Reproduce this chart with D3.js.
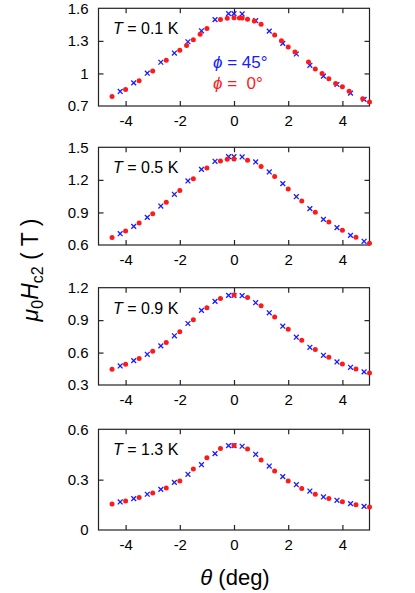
<!DOCTYPE html>
<html>
<head>
<meta charset="utf-8">
<script src="https://cdn.jsdelivr.net/npm/d3@7"></script>
<style>
body { margin:0; background:#fff; }
svg { font-family: "Liberation Sans", Arial, sans-serif; }
</style>
</head>
<body>
<div id="chart"></div>
<script>
// panel labels and axes
var temps = ["0.1", "0.5", "0.9", "1.3"];
var yDomains = [[0.7, 1.6], [0.6, 1.5], [0.3, 1.2], [0, 0.6]];
var yTicks = [[0.7, 1, 1.3, 1.6], [0.6, 0.9, 1.2, 1.5], [0.3, 0.6, 0.9, 1.2], [0, 0.3, 0.6]];
var xTicks = [-4, -2, 0, 2, 4];

// phi = 45 deg (blue crosses), same angles in every panel
var thetaBlue = [-4.2, -3.7, -3.2, -2.7, -2.2, -1.7, -1.2, -0.7, -0.2, 0, 0.3, 0.8, 1.3, 1.8, 2.3, 2.8, 3.3, 3.8, 4.3, 4.8];
var blue01 = [0.834, 0.913, 1.002, 1.103, 1.188, 1.292, 1.393, 1.496, 1.551, 1.551, 1.548, 1.487, 1.39, 1.277, 1.179, 1.075, 0.975, 0.898, 0.819, 0.761];
var blue05 = [0.704, 0.772, 0.855, 0.959, 1.067, 1.19, 1.297, 1.371, 1.414, 1.414, 1.411, 1.365, 1.273, 1.165, 1.045, 0.935, 0.836, 0.76, 0.689, 0.634];
var blue09 = [0.476, 0.526, 0.584, 0.662, 0.755, 0.869, 0.99, 1.073, 1.129, 1.129, 1.126, 1.061, 0.968, 0.844, 0.742, 0.649, 0.575, 0.513, 0.464, 0.421];
var blue13 = [0.167, 0.187, 0.213, 0.242, 0.284, 0.332, 0.389, 0.455, 0.503, 0.503, 0.499, 0.451, 0.381, 0.318, 0.27, 0.232, 0.197, 0.177, 0.157, 0.141];

// phi = 0 deg (red dots)
var thetaRed01 = [-4.5, -4, -3.5, -3, -2.5, -2, -1.75, -1.5, -1.25, -1, -0.5, -0.25, 0, 0.2, 0.3, 0.5, 0.75, 1, 1.5, 1.75, 2, 2.25, 2.75, 3, 3.25, 3.5, 3.75, 4, 4.25, 4.75, 5];
var red01 = [0.788, 0.853, 0.932, 1.023, 1.121, 1.213, 1.258, 1.31, 1.362, 1.414, 1.496, 1.508, 1.512, 1.51, 1.51, 1.5, 1.484, 1.454, 1.353, 1.3, 1.243, 1.197, 1.106, 1.04, 1.0, 0.95, 0.907, 0.877, 0.837, 0.767, 0.737];
var thetaRed05 = [-4.5, -4, -3.5, -3, -2.5, -2, -1.5, -1, -0.5, -0.25, 0, 0.5, 1, 1.5, 2, 2.5, 3, 3.5, 4, 4.5, 5];
var red05 = [0.668, 0.729, 0.803, 0.889, 0.993, 1.101, 1.211, 1.31, 1.374, 1.389, 1.392, 1.38, 1.322, 1.23, 1.116, 1.005, 0.901, 0.812, 0.735, 0.671, 0.615];
var thetaRed = [-4.5, -4, -3.5, -3, -2.5, -2, -1.5, -1, -0.5, 0, 0.5, 1, 1.5, 2, 2.5, 3, 3.5, 4, 4.5, 5];
var red09 = [0.445, 0.492, 0.544, 0.612, 0.693, 0.792, 0.903, 1.014, 1.101, 1.132, 1.11, 1.033, 0.928, 0.816, 0.714, 0.628, 0.557, 0.495, 0.448, 0.411];
var red13 = [0.155, 0.173, 0.193, 0.22, 0.25, 0.292, 0.364, 0.431, 0.485, 0.503, 0.483, 0.417, 0.352, 0.292, 0.248, 0.213, 0.187, 0.169, 0.151, 0.137];

var blueSets = [[thetaBlue, blue01], [thetaBlue, blue05], [thetaBlue, blue09], [thetaBlue, blue13]];
var redSets = [[thetaRed01, red01], [thetaRed05, red05], [thetaRed, red09], [thetaRed, red13]];

var W = 415, H = 593;
var left = 98.5, right = 369.5;
var tops = [8.3, 147.3, 287.7, 429.3];
var bottoms = [106, 245, 385, 530];

var svg = d3.select("#chart").append("svg")
    .attr("width", W)
    .attr("height", H);

var x = d3.scaleLinear().domain([-5, 5]).range([left, right]);

function pairs(set) {
    return set[0].map(function(t, i) { return { t: t, v: set[1][i] }; });
}

function drawPanel(p) {
    var y = d3.scaleLinear().domain(yDomains[p]).range([bottoms[p], tops[p]]);
    var g = svg.append("g").attr("class", "panel");

    // frame
    g.append("rect")
        .attr("x", left).attr("y", tops[p])
        .attr("width", right - left).attr("height", bottoms[p] - tops[p])
        .attr("fill", "none").attr("stroke", "#222").attr("stroke-width", 1.2);

    // x ticks, inward on bottom and top
    var xa = d3.axisBottom(x).tickValues(xTicks).tickSizeInner(-5).tickSizeOuter(0).tickPadding(9)
        .tickFormat(function(d) { return d3.format("d")(d).replace("−", "-"); });
    var gx = g.append("g").attr("transform", "translate(0," + bottoms[p] + ")").call(xa);
    var gxt = g.append("g").attr("transform", "translate(0," + tops[p] + ")")
        .call(d3.axisTop(x).tickValues(xTicks).tickSizeInner(-5).tickSizeOuter(0).tickFormat(""));

    // y ticks, inward on left and right
    var ya = d3.axisLeft(y).tickValues(yTicks[p]).tickSizeInner(-5).tickSizeOuter(0).tickPadding(10)
        .tickFormat(function(d) { return d3.format("~g")(d); });
    var gy = g.append("g").attr("transform", "translate(" + left + ",0)").call(ya);
    var gyr = g.append("g").attr("transform", "translate(" + right + ",0)")
        .call(d3.axisRight(y).tickValues(yTicks[p]).tickSizeInner(-5).tickSizeOuter(0).tickFormat(""));

    [gx, gxt, gy, gyr].forEach(function(a) {
        a.select(".domain").remove();
        a.selectAll(".tick line").attr("stroke", "#222").attr("stroke-width", 1.2);
        a.selectAll(".tick text").attr("font-size", 15).attr("fill", "#000")
            .attr("font-family", "Liberation Sans, Arial, sans-serif");
    });
    // drop ticks that sit on the frame corners
    gy.selectAll(".tick line").filter(function(d) { return d == yDomains[p][0] || d == yDomains[p][1]; }).remove();
    gyr.selectAll(".tick line").filter(function(d) { return d == yDomains[p][0] || d == yDomains[p][1]; }).remove();

    // temperature label
    var tl = g.append("text")
        .attr("x", 113).attr("y", tops[p] + 26)
        .attr("font-size", 16).attr("fill", "#000");
    tl.append("tspan").attr("font-style", "italic").text("T");
    tl.append("tspan").text(" = " + temps[p] + " K");

    // phi = 45 crosses
    var s = 2.4;
    g.append("g").attr("class", "blue")
        .selectAll("path")
        .data(pairs(blueSets[p]))
        .enter()
        .append("path")
        .attr("d", function(d) {
            var cx = x(d.t), cy = y(d.v);
            return "M" + (cx - s) + "," + (cy - s) + "L" + (cx + s) + "," + (cy + s) +
                "M" + (cx - s) + "," + (cy + s) + "L" + (cx + s) + "," + (cy - s);
        })
        .attr("stroke", "#1a1aff")
        .attr("stroke-width", 1.3)
        .attr("fill", "none");

    // phi = 0 dots
    g.append("g").attr("class", "red")
        .selectAll("circle")
        .data(pairs(redSets[p]))
        .enter()
        .append("circle")
        .attr("cx", function(d) { return x(d.t); })
        .attr("cy", function(d) { return y(d.v); })
        .attr("r", 2.5)
        .attr("fill", "#ff1a1a");
}

for (var p = 0; p < 4; p++) drawPanel(p);

// legend in first panel
var l1 = svg.append("text").attr("x", 213).attr("y", 68).attr("font-size", 17).attr("fill", "#1a1aff");
l1.append("tspan").attr("font-style", "italic").text("ϕ");
l1.append("tspan").text(" = 45°");
var l2 = svg.append("text").attr("x", 213).attr("y", 89).attr("font-size", 17).attr("fill", "#ff1a1a");
l2.append("tspan").attr("font-style", "italic").text("ϕ");
l2.append("tspan").text(" =  0°").attr("xml:space", "preserve");

// axis titles
var yl = svg.append("text")
    .attr("transform", "translate(38,270) rotate(-90)")
    .attr("text-anchor", "middle")
    .attr("font-size", 23)
    .attr("fill", "#000");
yl.append("tspan").attr("font-style", "italic").text("μ");
yl.append("tspan").attr("font-size", 16).attr("dy", 5).text("0");
yl.append("tspan").attr("font-style", "italic").attr("dy", -5).text("H");
yl.append("tspan").attr("font-size", 16).attr("dy", 5).text("c2");
yl.append("tspan").attr("dy", -5).text(" ( T )");

var xl = svg.append("text")
    .attr("x", 235).attr("y", 585)
    .attr("text-anchor", "middle")
    .attr("font-size", 22)
    .attr("fill", "#000");
xl.append("tspan").attr("font-style", "italic").text("θ");
xl.append("tspan").text(" (deg)");
</script>
</body>
</html>
